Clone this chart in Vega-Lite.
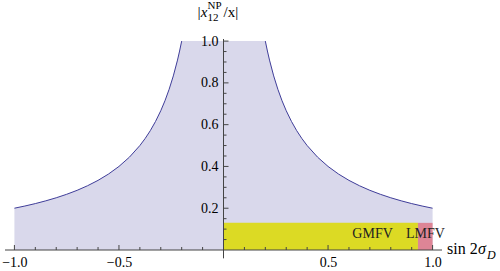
{
  "$schema": "https://vega.github.io/schema/vega-lite/v6.json",
  "width": 437,
  "height": 211,
  "autosize": {"type": "none"},
  "padding": {"left": 5, "top": 39, "right": 58, "bottom": 21},
  "background": "white",
  "config": {"view": {"stroke": null}, "font": "Liberation Serif"},
  "data": {"values": [{"one": 1}]},
  "datasets": {
    "curve": [
      {"x": -1.0, "y": 0.2, "s": "L"}, {"x": -0.95, "y": 0.2105, "s": "L"}, {"x": -0.9, "y": 0.2222, "s": "L"},
      {"x": -0.85, "y": 0.2353, "s": "L"}, {"x": -0.8, "y": 0.25, "s": "L"}, {"x": -0.75, "y": 0.2667, "s": "L"},
      {"x": -0.7, "y": 0.2857, "s": "L"}, {"x": -0.65, "y": 0.3077, "s": "L"}, {"x": -0.6, "y": 0.3333, "s": "L"},
      {"x": -0.55, "y": 0.3636, "s": "L"}, {"x": -0.5, "y": 0.4, "s": "L"}, {"x": -0.45, "y": 0.4444, "s": "L"},
      {"x": -0.4, "y": 0.5, "s": "L"}, {"x": -0.375, "y": 0.5333, "s": "L"}, {"x": -0.35, "y": 0.5714, "s": "L"},
      {"x": -0.325, "y": 0.6154, "s": "L"}, {"x": -0.3, "y": 0.6667, "s": "L"}, {"x": -0.28, "y": 0.7143, "s": "L"},
      {"x": -0.26, "y": 0.7692, "s": "L"}, {"x": -0.24, "y": 0.8333, "s": "L"}, {"x": -0.22, "y": 0.9091, "s": "L"},
      {"x": -0.21, "y": 0.9524, "s": "L"}, {"x": -0.2, "y": 1.0, "s": "L"},
      {"x": 0.2, "y": 1.0, "s": "R"}, {"x": 0.21, "y": 0.9524, "s": "R"}, {"x": 0.22, "y": 0.9091, "s": "R"},
      {"x": 0.24, "y": 0.8333, "s": "R"}, {"x": 0.26, "y": 0.7692, "s": "R"}, {"x": 0.28, "y": 0.7143, "s": "R"},
      {"x": 0.3, "y": 0.6667, "s": "R"}, {"x": 0.325, "y": 0.6154, "s": "R"}, {"x": 0.35, "y": 0.5714, "s": "R"},
      {"x": 0.375, "y": 0.5333, "s": "R"}, {"x": 0.4, "y": 0.5, "s": "R"}, {"x": 0.45, "y": 0.4444, "s": "R"},
      {"x": 0.5, "y": 0.4, "s": "R"}, {"x": 0.55, "y": 0.3636, "s": "R"}, {"x": 0.6, "y": 0.3333, "s": "R"},
      {"x": 0.65, "y": 0.3077, "s": "R"}, {"x": 0.7, "y": 0.2857, "s": "R"}, {"x": 0.75, "y": 0.2667, "s": "R"},
      {"x": 0.8, "y": 0.25, "s": "R"}, {"x": 0.85, "y": 0.2353, "s": "R"}, {"x": 0.9, "y": 0.2222, "s": "R"},
      {"x": 0.95, "y": 0.2105, "s": "R"}, {"x": 1.0, "y": 0.2, "s": "R"}
    ],
    "regions": [
      {"name": "GMFV", "x1": 0.0, "x2": 0.93, "y1": 0.0, "y2": 0.13, "lx": 0.713, "ly": 0.057},
      {"name": "LMFV", "x1": 0.93, "x2": 1.0, "y1": 0.0, "y2": 0.13, "lx": 0.966, "ly": 0.057}
    ],
    "xmajor": [{"v": -1.0}, {"v": -0.5}, {"v": 0.5}, {"v": 1.0}],
    "xminor": [
      {"v": -0.9}, {"v": -0.8}, {"v": -0.7}, {"v": -0.6}, {"v": -0.4}, {"v": -0.3}, {"v": -0.2}, {"v": -0.1},
      {"v": 0.1}, {"v": 0.2}, {"v": 0.3}, {"v": 0.4}, {"v": 0.6}, {"v": 0.7}, {"v": 0.8}, {"v": 0.9}
    ],
    "ymajor": [{"v": 0.2}, {"v": 0.4}, {"v": 0.6}, {"v": 0.8}, {"v": 1.0}],
    "yminor": [
      {"v": 0.05}, {"v": 0.1}, {"v": 0.15}, {"v": 0.25}, {"v": 0.3}, {"v": 0.35}, {"v": 0.45}, {"v": 0.5},
      {"v": 0.55}, {"v": 0.65}, {"v": 0.7}, {"v": 0.75}, {"v": 0.85}, {"v": 0.9}, {"v": 0.95}
    ]
  },
  "layer": [
    {
      "data": {"name": "curve"},
      "mark": {"type": "area", "color": "#d9d8eb", "opacity": 1},
      "encoding": {
        "x": {"field": "x", "type": "quantitative", "scale": {"domain": [-1.045, 1.045], "nice": false, "zero": false},
          "axis": {"values": [-1, -0.5, 0.5, 1], "format": ".1f", "labelExpr": "replace(datum.label, '-', '\u2212')",
            "domain": false, "ticks": false, "grid": false, "title": null, "labelFont": "Liberation Serif",
            "labelFontSize": 14, "labelColor": "#000", "labelPadding": 5, "zindex": 2}},
        "y": {"field": "y", "type": "quantitative", "scale": {"domain": [0, 1.01], "nice": false},
          "axis": {"values": [0.2, 0.4, 0.6, 0.8, 1.0], "format": ".1f", "offset": -218, "domain": false,
            "ticks": false, "grid": false, "title": null, "labelFont": "Liberation Serif", "labelFontSize": 14,
            "labelColor": "#000", "labelPadding": 5, "zindex": 2}}
      }
    },
    {
      "data": {"name": "curve"},
      "mark": {"type": "line", "color": "#3f3d99", "strokeWidth": 1},
      "encoding": {
        "x": {"field": "x", "type": "quantitative"},
        "y": {"field": "y", "type": "quantitative"},
        "detail": {"field": "s"}
      }
    },
    {
      "data": {"name": "regions"},
      "mark": {"type": "rect"},
      "encoding": {
        "x": {"field": "x1", "type": "quantitative"},
        "x2": {"field": "x2"},
        "y": {"field": "y1", "type": "quantitative"},
        "y2": {"field": "y2"},
        "color": {"field": "name", "type": "nominal", "scale": {"domain": ["GMFV", "LMFV"], "range": ["#dcda24", "#dd8596"]}, "legend": null}
      }
    },
    {
      "data": {"name": "regions"},
      "mark": {"type": "text", "font": "Liberation Serif", "fontSize": 14, "color": "#222", "baseline": "alphabetic"},
      "encoding": {
        "x": {"field": "lx", "type": "quantitative"},
        "y": {"field": "ly", "type": "quantitative"},
        "text": {"field": "name"}
      }
    },
    {
      "mark": {"type": "rule", "color": "#444", "strokeWidth": 1},
      "encoding": {"x": {"datum": -1.045}, "x2": {"datum": 1.045}, "y": {"datum": 0}}
    },
    {
      "mark": {"type": "rule", "color": "#444", "strokeWidth": 1},
      "encoding": {"x": {"datum": 0}, "y": {"datum": -0.04}, "y2": {"datum": 1.01}}
    },
    {
      "data": {"name": "xmajor"},
      "mark": {"type": "tick", "orient": "vertical", "size": 5, "thickness": 1, "color": "#444", "opacity": 1, "yOffset": -2.5},
      "encoding": {"x": {"field": "v", "type": "quantitative"}, "y": {"datum": 0}}
    },
    {
      "data": {"name": "xminor"},
      "mark": {"type": "tick", "orient": "vertical", "size": 3, "thickness": 1, "color": "#444", "opacity": 1, "yOffset": -1.5},
      "encoding": {"x": {"field": "v", "type": "quantitative"}, "y": {"datum": 0}}
    },
    {
      "data": {"name": "ymajor"},
      "mark": {"type": "tick", "orient": "horizontal", "size": 5, "thickness": 1, "color": "#444", "opacity": 1, "xOffset": 2.5},
      "encoding": {"y": {"field": "v", "type": "quantitative"}, "x": {"datum": 0}}
    },
    {
      "data": {"name": "yminor"},
      "mark": {"type": "tick", "orient": "horizontal", "size": 3, "thickness": 1, "color": "#444", "opacity": 1, "xOffset": 1.5},
      "encoding": {"y": {"field": "v", "type": "quantitative"}, "x": {"datum": 0}}
    },
    {
      "mark": {"type": "text", "text": "|x", "font": "Liberation Serif", "fontStyle": "italic", "fontSize": 15, "align": "right", "baseline": "alphabetic", "dx": -16, "dy": -22, "color": "#000"},
      "encoding": {"x": {"datum": 0}, "y": {"datum": 1.01}}
    },
    {
      "mark": {"type": "text", "text": "NP", "font": "Liberation Serif", "fontSize": 11, "align": "left", "baseline": "alphabetic", "dx": -16, "dy": -30, "color": "#000"},
      "encoding": {"x": {"datum": 0}, "y": {"datum": 1.01}}
    },
    {
      "mark": {"type": "text", "text": "12", "font": "Liberation Serif", "fontSize": 11, "align": "left", "baseline": "alphabetic", "dx": -16, "dy": -18, "color": "#000"},
      "encoding": {"x": {"datum": 0}, "y": {"datum": 1.01}}
    },
    {
      "mark": {"type": "text", "text": "/x|", "font": "Liberation Serif", "fontSize": 15, "align": "left", "baseline": "alphabetic", "dx": 0, "dy": -22, "color": "#000"},
      "encoding": {"x": {"datum": 0}, "y": {"datum": 1.01}}
    },
    {
      "mark": {"type": "text", "text": "sin 2", "font": "Liberation Serif", "fontSize": 16, "align": "left", "baseline": "alphabetic", "dx": 5, "dy": 4, "color": "#000"},
      "encoding": {"x": {"datum": 1.045}, "y": {"datum": 0}}
    },
    {
      "mark": {"type": "text", "text": "\u03c3", "font": "Liberation Serif", "fontStyle": "italic", "fontSize": 16, "align": "left", "baseline": "alphabetic", "dx": 36, "dy": 4, "color": "#000"},
      "encoding": {"x": {"datum": 1.045}, "y": {"datum": 0}}
    },
    {
      "mark": {"type": "text", "text": "D", "font": "Liberation Serif", "fontStyle": "italic", "fontSize": 12, "align": "left", "baseline": "alphabetic", "dx": 45, "dy": 9, "color": "#000"},
      "encoding": {"x": {"datum": 1.045}, "y": {"datum": 0}}
    }
  ]
}
